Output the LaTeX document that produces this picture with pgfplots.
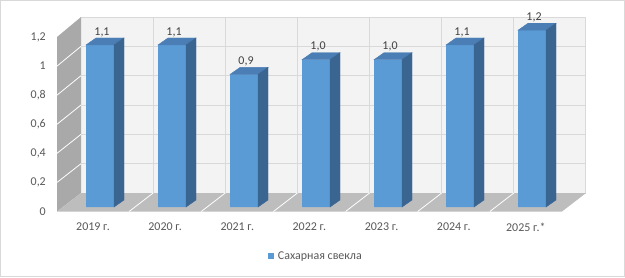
\documentclass[border=0pt]{standalone}
\usepackage{fontspec}
\setmainfont{Carlito}
\usepackage{pgfplots}
\usepackage{pgfplotstable}
\pgfplotsset{compat=1.18}
\definecolor{barfront}{HTML}{5B9BD5}
\definecolor{bartop}{HTML}{4A7EB5}
\definecolor{barside}{HTML}{3A6590}
\definecolor{txt}{HTML}{595959}
\definecolor{lbl}{HTML}{404040}
\definecolor{gridc}{HTML}{D9D9D9}
\definecolor{wall}{HTML}{F3F3F3}
\definecolor{sidewall}{HTML}{A9A9A9}
\definecolor{floorc}{HTML}{BDBDBD}
\definecolor{framec}{HTML}{D9D9D9}

\pgfplotstableread{
x v
0 1.1
1 1.1
2 0.9
3 1.0
4 1.0
5 1.1
6 1.2
}\datatable

\begin{document}
\begin{tikzpicture}
\begin{scope}[shift={(-57bp,211.5bp)}, x=1bp, y=-1bp]
  \useasboundingbox (0,0) rectangle (625,277);
  \fill[white] (0,0) rectangle (625,277);
  \draw[framec, line width=1bp] (0.5,0.5) rectangle (624.5,276.5);
  % back wall
  \fill[wall] (81,17) rectangle (586,193);
  \foreach \k in {0,...,6} \draw[gridc, line width=1bp] (81,{193-29.333*\k}) -- (586,{193-29.333*\k});
  \foreach \k in {1,...,7} \draw[gridc, line width=1bp] ({81+72.14*\k},17) -- ({81+72.14*\k},193);
  % side wall
  \fill[sidewall] (57,37) -- (81,17) -- (81,193) -- (57,211.5) -- cycle;
  \foreach \k in {1,...,5} \draw[white, line width=0.8bp] (57,{211.5-29.08*\k}) -- (81,{193-29.333*\k});
  % floor
  \fill[floorc] (57,211.5) -- (562,211.5) -- (586,193) -- (81,193) -- cycle;
  \foreach \k in {1,...,6} \draw[white, line width=0.8bp] ({57+72.14*\k},211.5) -- ({81+72.14*\k},193);
\end{scope}
\begin{axis}[
  x=72bp, y=147.3bp,
  xmin=-0.5972, xmax=6.4167, ymin=-0.03055, ymax=1.2,
  axis line style={draw=none}, major tick length=0pt, tick style={draw=none},
  clip=false,
  xtick={-0.097,0.905,1.907,2.909,3.911,4.913,5.915},
  xticklabels={2019 г.,2020 г.,2021 г.,2022 г.,2023 г.,2024 г.,2025 г.*},
  ytick={-0.03055,0.16687,0.36429,0.56171,0.75913,0.95655,1.15397},
  yticklabels={0,{0,2},{0,4},{0,6},{0,8},1,{1,2}},
  ticklabel style={font=\fontsize{12}{14}\selectfont, text=txt},
  xticklabel style={anchor=north, inner sep=0pt, yshift=-11.5bp},
  yticklabel style={anchor=east, inner sep=0pt, xshift=-11bp},
  legend style={draw=none, fill=none, at={(axis cs:2.333,-0.3327)}, anchor=west,
    inner sep=0pt, outer sep=0pt, font=\fontsize{12}{14}\selectfont, text=txt,
    nodes={inner sep=0pt}, /tikz/every odd column/.append style={column sep=4bp}},
  legend image code/.code={\fill[barfront] (0bp,-3bp) rectangle (6bp,3bp);},
  /pgf/number format/assume math mode=true,
]
\addplot[forget plot, scatter, only marks, mark=*, mark size=0pt,
  mark options={draw=none, fill=none},
  visualization depends on={\thisrow{v} \as \val},
  scatter/@pre marker code/.code={%
    \fill[bartop] (-14bp,0bp) -- (14bp,0bp) -- (24bp,7bp) -- (-4bp,7bp) -- cycle;
    \fill[barside] (14bp,0bp) -- (24bp,7bp) -- (24bp,{7bp-\val*147.3bp}) -- (14bp,{-\val*147.3bp}) -- cycle;
  },
  scatter/@post marker code/.code={}
] table[x=x, y=v] {\datatable};
\addplot[ybar, bar width=28bp, bar shift=0pt, fill=barfront, draw=none,
  point meta=y,
  nodes near coords={\pgfmathprintnumber[fixed, fixed zerofill, precision=1, use comma]{\pgfplotspointmeta}},
  every node near coord/.append style={anchor=south, inner sep=0pt, yshift=8bp, xshift=2bp,
    font=\fontsize{12}{14}\selectfont, text=lbl},
] table[x=x, y=v] {\datatable};
\addlegendentry{Сахарная свекла}
\end{axis}
\end{tikzpicture}
\end{document}
